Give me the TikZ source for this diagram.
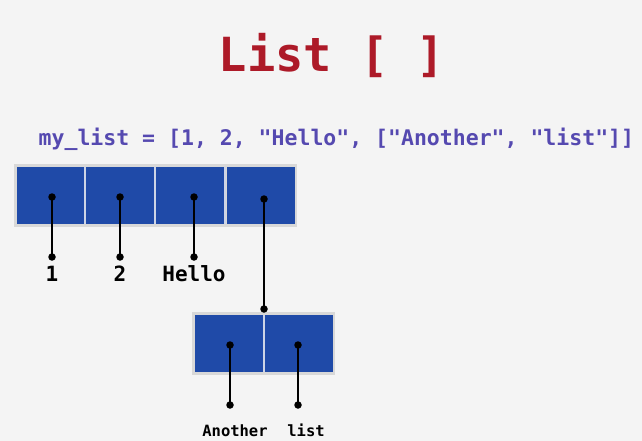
\documentclass[tikz,border=0pt]{standalone}
\usepackage{fontspec}
\newfontfamily\monob{DejaVu Sans Mono}
\begin{document}
\begin{tikzpicture}[x=1pt,y=-1pt,
  outerbox/.style={draw=none,fill=framegray,inner sep=0pt,anchor=north west},
  cellbox/.style={draw=none,fill=cellblue,inner sep=0pt,minimum height=57pt},
  sepline/.style={draw=sepgray,line width=1.6pt},
  dotnode/.style={circle,fill=black,inner sep=0pt,minimum size=7.5pt},
  link/.style={draw=black,line width=1.8pt},
  lbl/.style={font=\monob\bfseries\fontsize{21}{21}\selectfont,anchor=base,inner sep=0pt},
  lblsmall/.style={font=\monob\bfseries\fontsize{15.5}{15.5}\selectfont,anchor=base,inner sep=0pt}
]
\definecolor{bg}{HTML}{F4F4F4}
\definecolor{framegray}{HTML}{D8D8D8}
\definecolor{sepgray}{HTML}{CDD4E6}
\definecolor{cellblue}{HTML}{1F4AA8}
\definecolor{titlered}{HTML}{AD1A28}
\definecolor{codepurple}{HTML}{5549B0}
\fill[bg] (0,0) rectangle (642,441);
\useasboundingbox (0,0) rectangle (642,441);

% title and code
\node[font=\monob\bfseries\fontsize{47}{47}\selectfont,text=titlered,anchor=base,inner sep=0pt] (title) at (332,72) {List [ ]};
\node[font=\monob\bfseries\fontsize{21.5}{21.5}\selectfont,text=codepurple,anchor=base west,inner sep=0pt] (code) at (38.5,146) {my\_list = [1, 2, "Hello", ["Another", "list"]]};

% top list
\node[outerbox,minimum width=283pt,minimum height=63pt] (outer1) at (14,164) {};
\node[cellbox,minimum width=68pt] (c1) at (50.5,195.5) {};
\node[cellbox,minimum width=69pt] (c2) at (120.5,195.5) {};
\node[cellbox,minimum width=69pt] (c3) at (190.5,195.5) {};
\node[cellbox,minimum width=68pt] (c4) at (260.5,195.5) {};
\draw[sepline] (c1.north east) -- (c1.south east);
\draw[sepline] (c2.north east) -- (c2.south east);
\draw[sepline] (c3.north east) -- (c3.south east);

% nested list
\node[outerbox,minimum width=143pt,minimum height=63pt] (outer2) at (192,312) {};
\node[cellbox,minimum width=69pt] (d1) at (229.5,343.5) {};
\node[cellbox,minimum width=68pt] (d2) at (298.5,343.5) {};
\draw[sepline] (d1.north east) -- (d1.south east);

% dots
\node[dotnode] (p1) at (52,197) {};
\node[dotnode] (p2) at (120,197) {};
\node[dotnode] (p3) at (194,197) {};
\node[dotnode] (p4) at (264,199) {};
\node[dotnode] (q1) at (52,257) {};
\node[dotnode] (q2) at (120,257) {};
\node[dotnode] (q3) at (194,257) {};
\node[dotnode] (q4) at (264,309) {};
\node[dotnode] (r1) at (230,345) {};
\node[dotnode] (r2) at (298,345) {};
\node[dotnode] (s1) at (230,405) {};
\node[dotnode] (s2) at (298,405) {};

% links
\draw[link] (p1.center) -- (q1.center);
\draw[link] (p2.center) -- (q2.center);
\draw[link] (p3.center) -- (q3.center);
\draw[link] (p4.center) -- (q4.center);
\draw[link] (r1.center) -- (s1.center);
\draw[link] (r2.center) -- (s2.center);

% labels
\node[lbl] (l1) at (52,281) {1};
\node[lbl] (l2) at (120,281) {2};
\node[lbl] (l3) at (194,281) {Hello};
\node[lblsmall] (m1) at (235,436) {Another};
\node[lblsmall] (m2) at (306,436) {list};
\end{tikzpicture}
\end{document}
